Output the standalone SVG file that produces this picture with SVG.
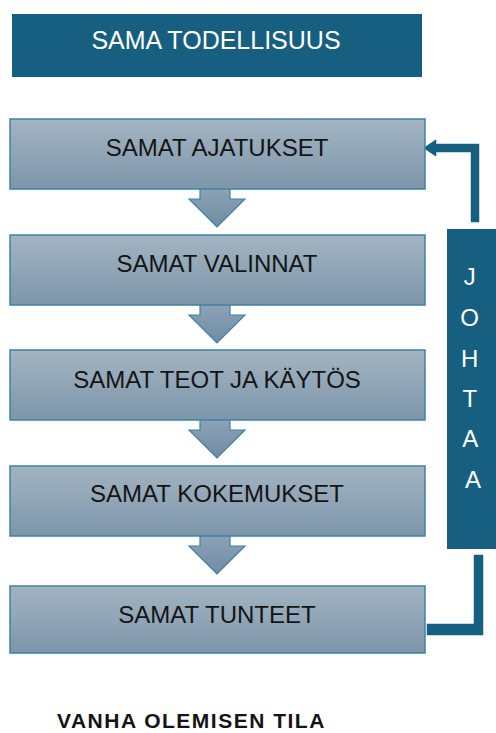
<svg xmlns="http://www.w3.org/2000/svg" width="496" height="733" viewBox="0 0 496 733">
  <defs>
    <linearGradient id="stepFill" x1="0" y1="0" x2="0" y2="1">
      <stop offset="0" stop-color="#A3B4C2"/>
      <stop offset="1" stop-color="#7D96AA"/>
    </linearGradient>
    <linearGradient id="arrowFill" x1="0" y1="0" x2="0" y2="1">
      <stop offset="0" stop-color="#8DA3B6"/>
      <stop offset="1" stop-color="#6E8CA3"/>
    </linearGradient>
    <style>
      .step { fill: url(#stepFill); stroke: #3F82A4; stroke-width: 1.5; }
      .down { fill: url(#arrowFill); stroke: #3F82A4; stroke-width: 1.2; }
      .label { font-family: "Liberation Sans", Arial, sans-serif; font-size: 24px; fill: #141414; text-anchor: middle; }
      .dark { fill: #175F80; }
      .light { font-family: "Liberation Sans", Arial, sans-serif; fill: #FFFFFF; text-anchor: middle; }
      .loop { fill: #175F80; stroke: #FFFFFF; stroke-width: 1.5; }
    </style>
  </defs>
  <rect width="496" height="733" fill="#FFFFFF"/>

  <!-- header -->
  <g id="header">
    <rect class="dark" x="12" y="14" width="410" height="63"/>
    <text class="light" x="216" y="49" font-size="25">SAMA TODELLISUUS</text>
  </g>

  <!-- downward block arrows between the steps -->
  <g id="connectors">
    <path class="down" d="M200,188 L230,188 L230,199 L245,199 L217,227 L189,199 L200,199 Z"/>
    <path class="down" d="M200,304 L230,304 L230,315 L245,315 L217,343 L189,315 L200,315 Z"/>
    <path class="down" d="M200,419 L230,419 L230,430 L245,430 L217,458 L189,430 L200,430 Z"/>
    <path class="down" d="M200,535 L230,535 L230,546 L245,546 L217,574 L189,546 L200,546 Z"/>
    <!-- feedback loop: feelings lead back to thoughts -->
    <path class="loop" d="M426,623 L473,623 L473,554 L484,554 L484,636 L426,636 Z"/>
    <path class="loop" d="M470,223 L470,153 L437,153 L437,158 L422,148 L437,138 L437,143 L480,143 L480,223 Z"/>
  </g>

  <g id="step-ajatukset">
    <rect class="step" x="10" y="119" width="415" height="70"/>
    <text class="label" x="217" y="156">SAMAT AJATUKSET</text>
  </g>
  <g id="step-valinnat">
    <rect class="step" x="10" y="235" width="415" height="70"/>
    <text class="label" x="217" y="272">SAMAT VALINNAT</text>
  </g>
  <g id="step-teot">
    <rect class="step" x="10" y="350" width="415" height="70"/>
    <text class="label" x="217" y="388">SAMAT TEOT JA KÄYTÖS</text>
  </g>
  <g id="step-kokemukset">
    <rect class="step" x="10" y="466" width="415" height="70"/>
    <text class="label" x="217" y="502">SAMAT KOKEMUKSET</text>
  </g>
  <g id="step-tunteet">
    <rect class="step" x="10" y="586" width="415" height="67"/>
    <text class="label" x="217" y="623">SAMAT TUNTEET</text>
  </g>

  <!-- vertical side label -->
  <g id="johtaa">
    <rect class="dark" x="447" y="229" width="52" height="320"/>
    <text class="light" x="473" font-size="24">
      <tspan x="473" y="285">J</tspan>
      <tspan x="473" y="326">O</tspan>
      <tspan x="473" y="367">H</tspan>
      <tspan x="473" y="407">T</tspan>
      <tspan x="473" y="447">A</tspan>
      <tspan x="473" y="488">A</tspan>
    </text>
  </g>

  <g id="caption">
    <text x="57" y="728" font-family="Liberation Sans, Arial, sans-serif" font-size="21" font-weight="bold" letter-spacing="1.5" fill="#141414">VANHA OLEMISEN TILA</text>
  </g>
</svg>
